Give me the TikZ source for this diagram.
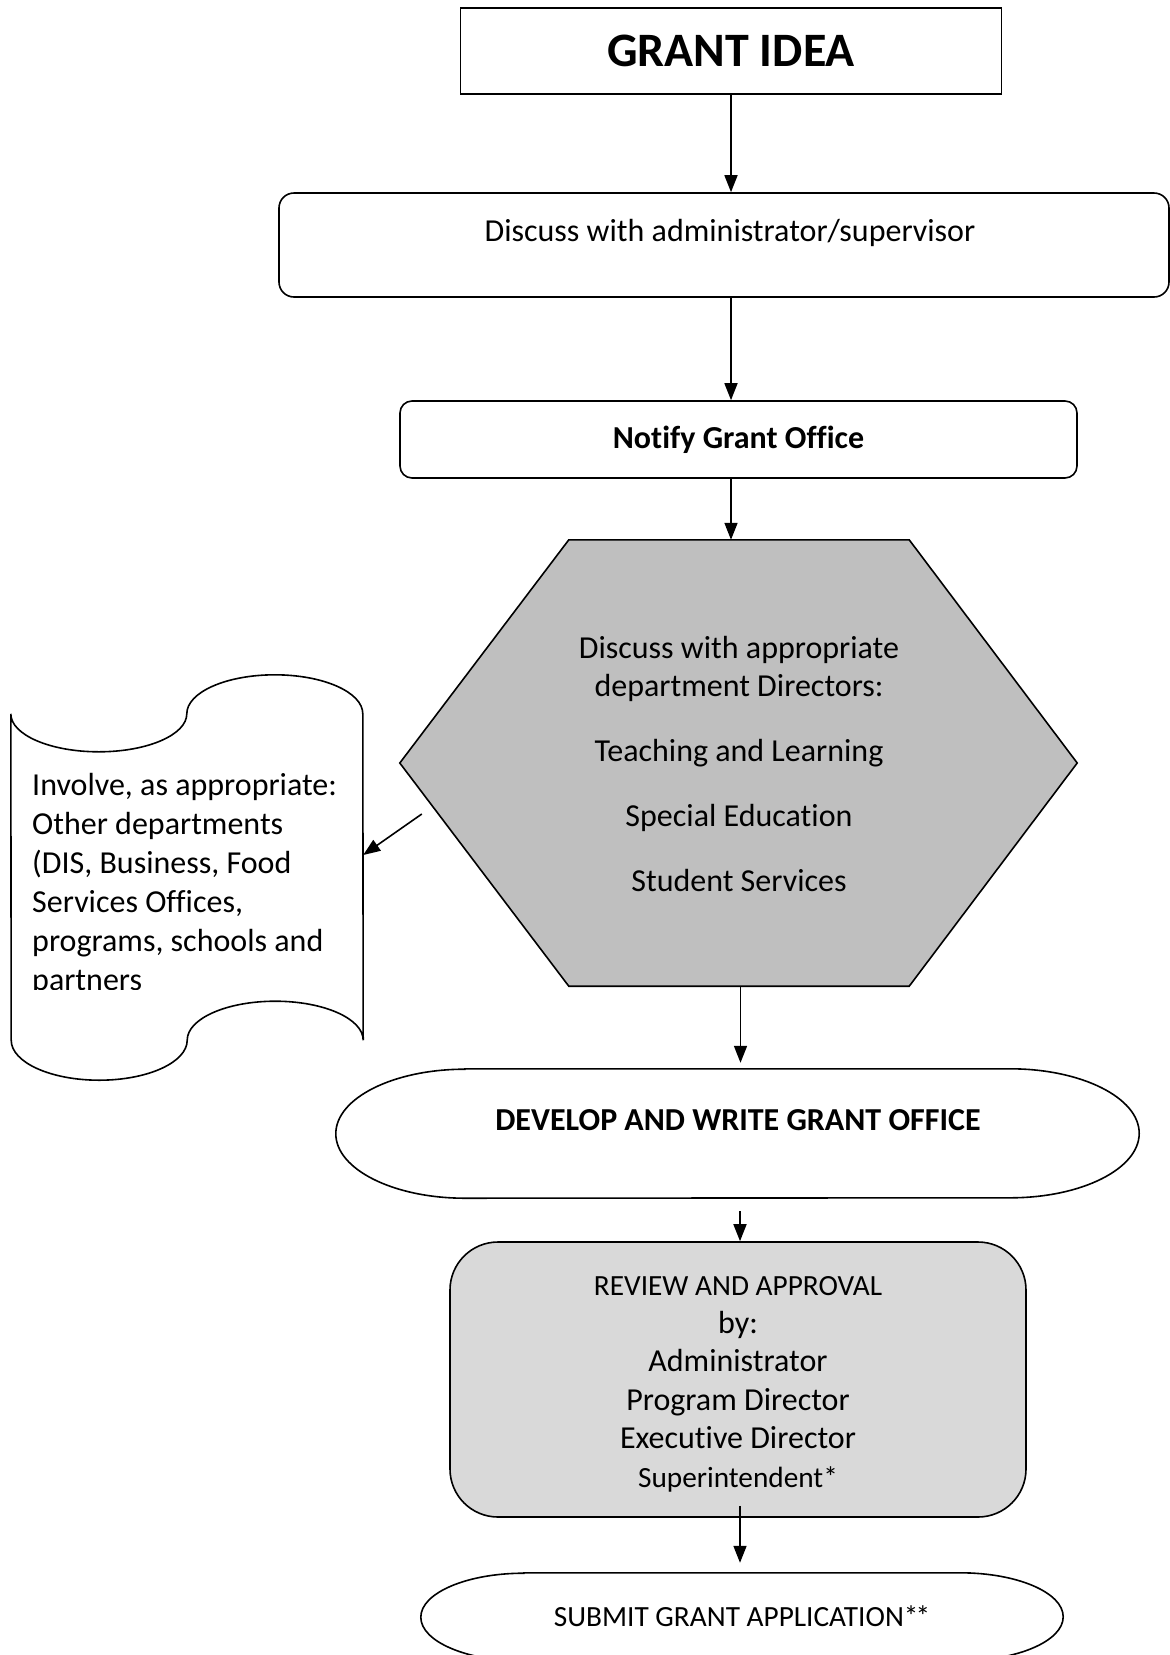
\documentclass[tikz,border=0pt]{standalone}
\usepackage{fontspec}
\setmainfont[Ligatures=NoCommon]{Carlito}
\usetikzlibrary{arrows.meta}
\definecolor{hexgray}{HTML}{BFBFBF}
\definecolor{revgray}{HTML}{D9D9D9}

\begin{document}
\begin{tikzpicture}[x=1pt,y=1pt,
	box/.style={draw, line width=1.6pt, inner sep=0pt},
	shell/.style={inner sep=0pt},
	flow/.style={-{Triangle[length=17pt,width=13pt]}, line width=1.6pt},
	txt/.style={inner sep=0pt, align=center, font=\fontsize{32}{38.4}\selectfont},
	smalltxt/.style={inner sep=0pt, align=center, font=\fontsize{29.3}{38.4}\selectfont}]
	\useasboundingbox (0,0) rectangle (1170,-1655);

	\node[box, minimum width=541, minimum height=86, font=\fontsize{48}{58}\selectfont\bfseries] (idea) at (731,-51) {GRANT IDEA};

	\node[box, rounded corners=15, minimum width=890, minimum height=104] (disc) at (724,-245) {};
		\node[txt] (disctxt) at (730,-233) {Discuss with administrator/supervisor};

	\node[box, rounded corners=12, minimum width=677, minimum height=77, font=\fontsize{32}{38.4}\selectfont\bfseries] (notify) at (738.5,-439.5) {Notify Grant Office};

	%hexagon
	\node[shell, minimum width=677, minimum height=446] (hex) at (738.5,-763) {};
	\draw[line width=1.6pt, fill=hexgray] (hex.west) -- ([xshift=169pt]hex.north west) -- ([xshift=-168pt]hex.north east) -- (hex.east) -- ([xshift=-168pt]hex.south east) -- ([xshift=169pt]hex.south west) -- cycle;
		\node[txt] (hextxt) at (739,-764) {Discuss with appropriate\\department Directors:\\[26pt]Teaching and Learning\\[27pt]Special Education\\[27pt]Student Services};

	%punched tape on the left
	\node[shell, minimum width=352, minimum height=326] (tape) at (187,-877) {};
	\draw[line width=1.6pt, fill=white] (tape.north west) arc[start angle=180, end angle=360, x radius=88pt, y radius=38pt] arc[start angle=180, end angle=0, x radius=88pt, y radius=39pt] -- (tape.south east) arc[start angle=0, end angle=180, x radius=88pt, y radius=39pt] arc[start angle=360, end angle=180, x radius=88pt, y radius=40pt] -- cycle;
	\begin{scope}
		\clip (tape.north west) rectangle ([yshift=51pt]tape.south east);
		\node[txt, align=left, anchor=north west, font=\fontsize{32}{39.1}\selectfont] (tapetxt) at (32,-773) {Involve, as appropriate:\\Other departments\\(DIS, Business, Food\\Services Offices,\\programs, schools and\\partners};
	\end{scope}

	%terminator shapes
	\node[shell, minimum width=803, minimum height=129] (dev) at (737.5,-1133.5) {};
	\draw[line width=1.6pt] ([xshift=129pt]dev.north west) -- ([xshift=-129pt]dev.north east) arc[start angle=90, end angle=-90, x radius=129pt, y radius=64.5pt] -- ([xshift=129pt]dev.south west) arc[start angle=270, end angle=90, x radius=129pt, y radius=64.5pt] -- cycle;
		\node[txt] (devtxt) at (738,-1120) {\bfseries DEVELOP AND WRITE GRANT OFFICE};

	\node[box, fill=revgray, rounded corners=48, minimum width=576, minimum height=275] (rev) at (738,-1379.5) {};
		\node[txt] (revtxt) at (738,-1384) {{\fontsize{29.3}{38.4}\selectfont REVIEW AND APPROVAL}\\by:\\Administrator\\Program Director\\Executive Director\\{\fontsize{29.3}{38.4}\selectfont Superintendent*}};

	\node[shell, minimum width=642, minimum height=88] (sub) at (742,-1617) {};
	\draw[line width=1.6pt] ([xshift=103pt]sub.north west) -- ([xshift=-103pt]sub.north east) arc[start angle=90, end angle=-90, x radius=103pt, y radius=44pt] -- ([xshift=103pt]sub.south west) arc[start angle=270, end angle=90, x radius=103pt, y radius=44pt] -- cycle;
		\node[smalltxt] (subtxt) at (742,-1616) {SUBMIT GRANT APPLICATION*\kern-3pt*};

	%arrows
	\draw[flow] (idea.south) -- (idea.south |- disc.north);
	\draw[flow] (idea.south |- disc.south) -- (idea.south |- notify.north);
	\draw[flow] (idea.south |- notify.south) -- (idea.south |- hex.north);
	\draw[flow] ([shift={(22pt,-51pt)}]hex.west) -- ([yshift=22pt]tape.east);
	\draw[flow] ([xshift=2pt]hex.south) -- ([shift={(2pt,6pt)}]hex.south |- dev.north);
	\draw[flow] ([shift={(2.5pt,-13pt)}]dev.south) -- ([xshift=2.5pt]dev.south |- rev.north);
	\draw[flow] ([shift={(2pt,12pt)}]rev.south) -- ([shift={(2pt,10pt)}]rev.south |- sub.north);
\end{tikzpicture}
\end{document}
